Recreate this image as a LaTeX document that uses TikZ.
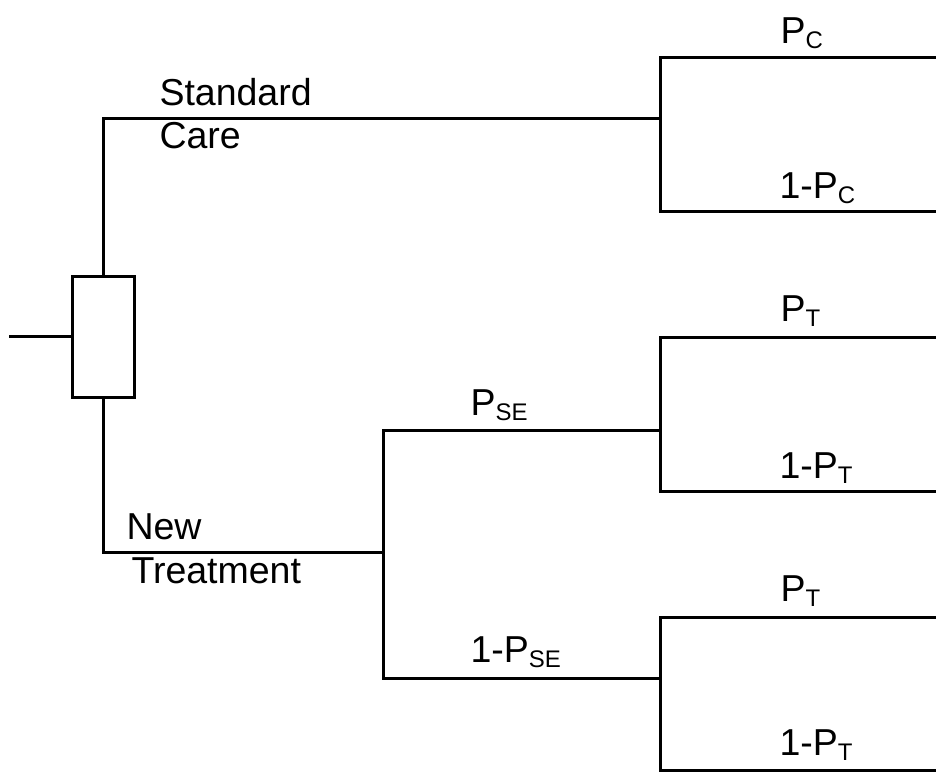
\documentclass[tikz,border=0pt]{standalone}
\usepackage{fontspec}
\setmainfont{Liberation Sans}
\newcommand{\lsub}[1]{\raisebox{-5pt}{\fontsize{24}{24}\selectfont #1}}
\begin{document}
\begin{tikzpicture}[x=1pt,y=-1pt,line width=3pt,
  lbl/.style={inner sep=0pt,anchor=base west,font=\fontsize{37.5}{40}\selectfont},
  decbox/.style={draw,minimum width=62pt,minimum height=121pt,inner sep=0pt}]
\useasboundingbox (0,0) rectangle (936,772);
\node[decbox] (dec) at (103.5,336.5) {};
\coordinate (start) at (9,336.5);
\coordinate (sc) at (660,118);
\coordinate (nt) at (383,552);
\coordinate (se) at (660,430);
\coordinate (nse) at (660,678);
\coordinate (scA) at (936,57);
\coordinate (scB) at (936,211);
\coordinate (seA) at (936,337);
\coordinate (seB) at (936,491);
\coordinate (nseA) at (936,617);
\coordinate (nseB) at (936,770);
\draw (start) -- (dec.west);
\draw (dec.north) |- (sc);
\draw (dec.south) |- (nt);
\draw (scA) -| (sc) |- (scB);
\draw (se) -| (nt) |- (nse);
\draw (seA) -| (se) |- (seB);
\draw (nseA) -| (nse) |- (nseB);
\node[lbl] (lstd) at (158,105) {Standard};
\node[lbl] (lcare) at (158,148) {Care};
\node[lbl] (lnew) at (125,539) {New};
\node[lbl] (ltreat) at (130,583) {Treatment};
\node[lbl] (lpc) at (779,43) {P\lsub{C}};
\node[lbl] (l1pc) at (778,198) {1-P\lsub{C}};
\node[lbl] (lpt1) at (779,321) {P\lsub{T}};
\node[lbl] (l1pt1) at (778,478) {1-P\lsub{T}};
\node[lbl] (lpse) at (469,415) {P\lsub{SE}};
\node[lbl] (l1pse) at (469,662) {1-P\lsub{SE}};
\node[lbl] (lpt2) at (779,601) {P\lsub{T}};
\node[lbl] (l1pt2) at (778,755) {1-P\lsub{T}};
\end{tikzpicture}
\end{document}
